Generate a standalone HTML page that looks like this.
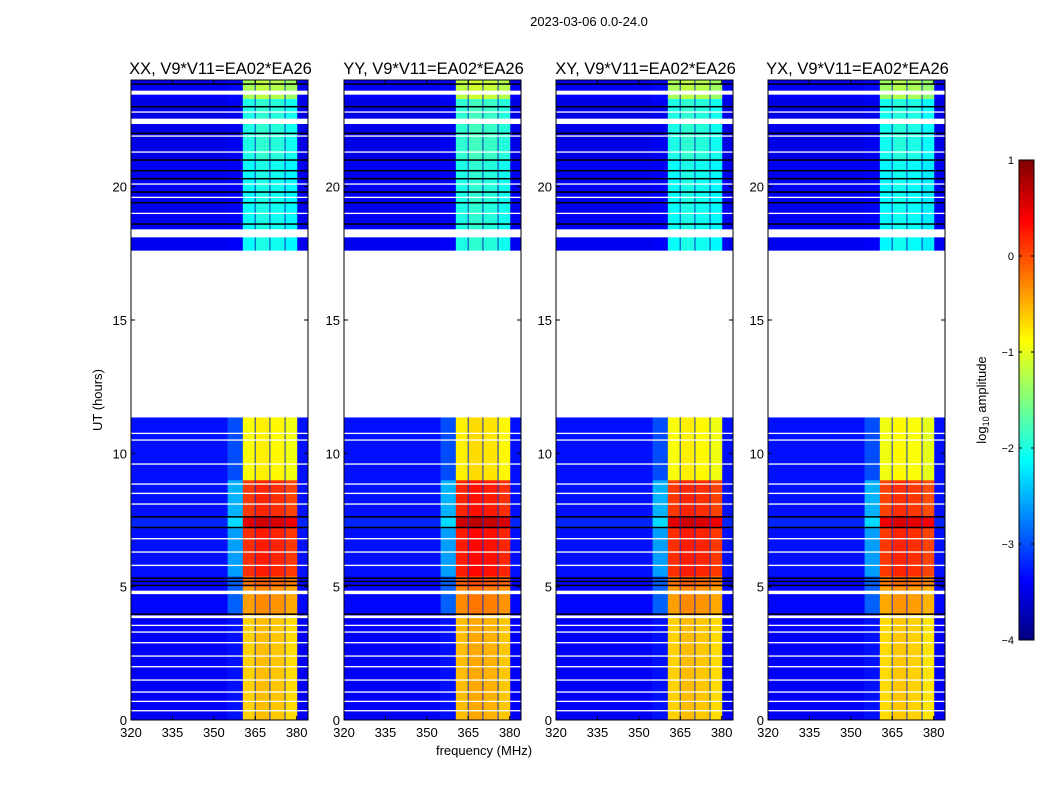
<!DOCTYPE html>
<html><head><meta charset="utf-8">
<style>
body{margin:0;background:#fff;width:1050px;height:800px;overflow:hidden;font-family:"Liberation Sans",sans-serif}
svg text{font-family:"Liberation Sans",sans-serif}
</style></head>
<body>
<svg id="fig" width="1050" height="800" xmlns="http://www.w3.org/2000/svg">
<text x="589" y="26" font-size="13" text-anchor="middle">2023-03-06 0.0-24.0</text>
<text x="484" y="755" font-size="13" text-anchor="middle">frequency (MHz)</text>
<text x="102" y="400" font-size="13" text-anchor="middle" transform="rotate(-90 102 400)">UT (hours)</text>
<g id="panels"></g>
<g id="cbar"></g>
</svg>
<script>
// ---- data ----
const panelTitles = ["XX, V9*V11=EA02*EA26","YY, V9*V11=EA02*EA26","XY, V9*V11=EA02*EA26","YX, V9*V11=EA02*EA26"];
const panelBandOffset = [0, 0.1, 0, -0.05];
const colStart = [320, 355, 360.5, 365, 370.3, 375.8, 380.2];
const colEnd   = [355, 360.5, 365, 370.3, 375.8, 380.2, 384.1];
const colType  = [0, 1, 2, 2, 2, 2, 0];
const colOffset= [0, 0, 0, 0.1, 0.05, -0.05, 0];
const rowStart = [0, 4.0, 5.0, 5.4, 7.2, 7.6, 9.0, 17.6, 21.0, 23.3];
const rowEnd   = [4.0, 5.0, 5.4, 7.2, 7.6, 9.0, 11.35, 21.0, 23.3, 24.0];
const rowBg    = [-3.4, -3.35, -3.35, -3.3, -3.2, -3.3, -3.3, -3.45, -3.5, -3.4];
const rowEdge  = [-3.3, -2.9, -2.9, -2.6, -2.3, -2.5, -3.0, -3.4, -3.45, -3.35];
const rowBand  = [-0.65, -0.4, -0.2, 0.15, 0.5, 0.1, -0.9, -2.1, -2.0, -1.3];
const whiteGaps = [[3.82,3.92],[4.72,4.85],[11.35,17.6],[18.1,18.4],[22.35,22.55],[23.45,23.6]];
const whiteLines = [0.35,0.7,1.05,1.5,2.0,2.4,2.9,3.3,3.55,5.8,6.3,6.8,8.1,8.5,8.85,9.6,10.5,10.75,19.0,19.6,20.1,21.3,21.9,22.8];
const blackLines = [3.97,5.05,5.2,5.32,7.22,7.62,18.6,19.4,19.8,20.3,20.6,21.0,22.0,23.0,23.85];
const xTicks = [320,335,350,365,380];
const yTicks = [0,5,10,15,20];
const cbTicks = [1,0,-1,-2,-3,-4];
// ---- layout ----
const panelX = [131,344,556,768], PW=177, PT=80, PB=720;
const fx = (x0,f)=> x0 + (f-320)*(PW/(384.1-320));
const hy = h => PB - h*(PB-PT)/24;
function jet(v){
  let t=Math.max(0,Math.min(1,(v+4)/5));
  const r=Math.max(0,Math.min(1,Math.min(4*t-1.5,-4*t+4.5)));
  const g=Math.max(0,Math.min(1,Math.min(4*t-0.5,-4*t+3.5)));
  const b=Math.max(0,Math.min(1,Math.min(4*t+0.5,-4*t+2.5)));
  return `rgb(${Math.round(r*255)},${Math.round(g*255)},${Math.round(b*255)})`;
}
const NS="http://www.w3.org/2000/svg";
function mk(tag,attrs,parent){const e=document.createElementNS(NS,tag);for(const k in attrs)e.setAttribute(k,attrs[k]);parent.appendChild(e);return e;}
const panelsG=document.getElementById('panels');
panelTitles.forEach((title,p)=>{
  const x0=panelX[p];
  const g=mk('g',{},panelsG);
  
  
  for(let r=0;r<rowStart.length;r++){
    for(let c=0;c<colStart.length;c++){
      const lv = colType[c]===0?rowBg[r]:colType[c]===1?rowEdge[r]:rowBand[r]+colOffset[c]+panelBandOffset[p];
      const y1=hy(rowEnd[r]), y2=hy(rowStart[r]);
      const xa=fx(x0,colStart[c]), xb=fx(x0,colEnd[c]);
      const cell=mk('rect',{x:xa,y:y1,width:xb-xa+0.3,height:y2-y1+0.3,fill:jet(lv)},g);
      
      
    }
  }
  [365,370.3,375.8].forEach(f=>{const l=mk('rect',{x:fx(x0,f)-0.7,y:PT,width:1.4,height:PB-PT,fill:'#1030c0',opacity:0.7},g);
    });
  whiteLines.forEach(h=>{const l=mk('rect',{x:x0,y:hy(h)-0.6,width:PW,height:1.3,fill:'#fff'},g);
    });
  blackLines.forEach(h=>{const l=mk('rect',{x:x0,y:hy(h)-0.7,width:PW,height:1.5,fill:'#000'},g);
    });
  whiteGaps.forEach(w=>{const l=mk('rect',{x:x0,y:hy(w[1]),width:PW,height:hy(w[0])-hy(w[1]),fill:'#fff'},g);
    });
  const fr=mk('rect',{x:x0,y:PT,width:PW,height:PB-PT,fill:'none',stroke:'#000','stroke-width':1},g);
  
  const t=mk('text',{x:x0+PW/2+1,y:74,'font-size':16.5,'text-anchor':'middle'},g);t.textContent=title;
  
  xTicks.forEach(f=>{const x=fx(x0,f);
    mk('line',{x1:x,x2:x,y1:PB,y2:PB-4,stroke:'#000'},g);mk('line',{x1:x,x2:x,y1:PT,y2:PT+4,stroke:'#000'},g);
    const tt=mk('text',{x:x,y:737,'font-size':13,'text-anchor':'middle'},g);tt.textContent=f;
    });
  yTicks.forEach(h=>{const y=hy(h);
    mk('line',{x1:x0,x2:x0+4,y1:y,y2:y,stroke:'#000'},g);mk('line',{x1:x0+PW,x2:x0+PW-4,y1:y,y2:y,stroke:'#000'},g);
    const tt=mk('text',{x:x0-4,y:y+5,'font-size':13,'text-anchor':'end'},g);tt.textContent=h;
    });
});
const cb=document.getElementById('cbar');

const CX=1019,CW=15,CT=160,CB=640;
for(let i=0;i<120;i++){const v=-4+5*(i+0.5)/120;
  mk('rect',{x:CX,y:CB-(i+1)*(CB-CT)/120,width:CW,height:(CB-CT)/120+0.5,fill:jet(v)},cb);}
mk('rect',{x:CX,y:CT,width:CW,height:CB-CT,fill:'none',stroke:'#000'},cb);
cbTicks.forEach(v=>{const y=CB-(v+4)*(CB-CT)/5;
  mk('line',{x1:CX,x2:CX+3,y1:y,y2:y,stroke:'#000'},cb);mk('line',{x1:CX+CW,x2:CX+CW-3,y1:y,y2:y,stroke:'#000'},cb);
  const tt=mk('text',{x:CX-5,y:y+4,'font-size':11,'text-anchor':'end'},cb);tt.textContent=v<0?'\u2212'+(-v):v;
  });
const lab=mk('text',{x:986,y:400,'font-size':13,'text-anchor':'middle',transform:'rotate(-90 986 400)'},cb);
lab.innerHTML='log<tspan font-size="9" dy="3">10</tspan><tspan dy="-3"> amplitude</tspan>';

</script>
</body></html>
